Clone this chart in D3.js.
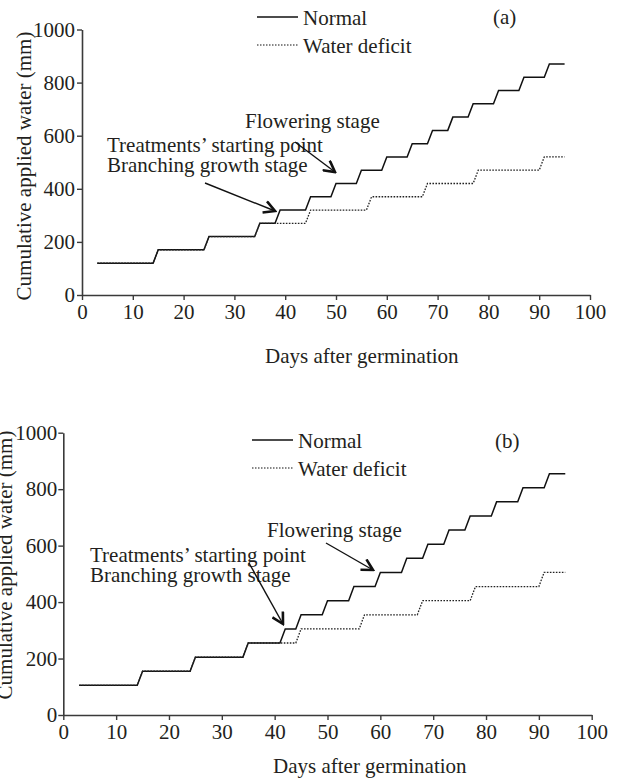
<!DOCTYPE html>
<html>
<head>
<meta charset="utf-8">
<script src="https://cdn.jsdelivr.net/npm/d3@7"></script>
<style>
  body { margin: 0; background: #fff; }
  svg text { font-family: "Liberation Serif", "DejaVu Serif", serif; fill: #231f20; }
</style>
</head>
<body>
<svg id="canvas" width="623" height="781"></svg>
<script>
// ---- data: [day, cumulative applied water (mm)] at each step corner
var normalA = [[3,120],[14,120],[15,170],[24,170],[25,220],[34,220],[35,270],[38,270],[39,320],[44,320],
    [45,370],[49,370],[50,420],[54,420],[55,470],[59,470],[60,520],[64,520],[65,570],[68,570],[69,620],
    [72,620],[73,670],[76,670],[77,720],[81,720],[82,770],[86,770],[87,820],[91,820],[92,870],[95,870]];
var deficitA = [[3,120],[14,120],[15,170],[24,170],[25,220],[34,220],[35,270],[44,270],[45,320],[56,320],
    [57,370],[67,370],[68,420],[77,420],[78,470],[90,470],[91,520],[95,520]];

var normalB = [[3,105],[14,105],[15,155],[24,155],[25,205],[34,205],[35,255],[41,255],[42,305],[44,305],
    [45,355],[49,355],[50,405],[54,405],[55,455],[59,455],[60,505],[64,505],[65,555],[68,555],[69,605],
    [72,605],[73,655],[76,655],[77,705],[81,705],[82,755],[86,755],[87,805],[91,805],[92,855],[95,855]];
var deficitB = [[3,105],[14,105],[15,155],[24,155],[25,205],[34,205],[35,255],[44,255],[45,305],[56,305],
    [57,355],[67,355],[68,405],[77,405],[78,455],[90,455],[91,505],[95,505]];

var xTicks = [0,10,20,30,40,50,60,70,80,90,100];
var yTicks = [0,200,400,600,800,1000];
var seriesNames = ['Normal', 'Water deficit'];
var panelLabels = ['(a)', '(b)'];
var notes = ['Flowering stage', 'Treatments\u2019 starting point', 'Branching growth stage'];
var xTitle = 'Days after germination';
var yTitle = 'Cumulative applied water (mm)';

// ---- layout of each panel (pixels)
var panels = [
    {
        normal: normalA, deficit: deficitA, label: panelLabels[0],
        x0: 82, x1: 590, y0: 295, y1: 29.5, yPad: 2,
        legend: {x: 257, lineLen: 41, y: 17, gap: 28, textX: 303},
        labelPos: [493, 24],
        xTitle: [265, 363], yTitle: [31, 166],
        flower: {text: [245, 128], from: [295, 142], to: [335, 172]},
        start: {text: [107, 152], gap: 20, from: [205, 183], to: [275, 211]}
    },
    {
        normal: normalB, deficit: deficitB, label: panelLabels[1],
        x0: 63.3, x1: 591.7, y0: 715, y1: 432.7, yPad: 1,
        legend: {x: 252, lineLen: 41, y: 440, gap: 28, textX: 298},
        labelPos: [495, 448],
        xTitle: [273, 773], yTitle: [12, 565],
        flower: {text: [267, 537], from: [326, 543], to: [373, 570]},
        start: {text: [90, 562], gap: 20, from: [249, 563], to: [283, 624]}
    }
];

var svg = d3.select('#canvas'),
    defs = svg.append('defs'),
    fontSize = 21;

// open chevron arrowhead
defs.append('marker')
        .attr('id', 'chevron')
        .attr('viewBox', '-1 -7 14 14')
        .attr('refX', 11)
        .attr('refY', 0)
        .attr('markerWidth', 14)
        .attr('markerHeight', 14)
        .attr('markerUnits', 'userSpaceOnUse')
        .attr('orient', 'auto')
    .append('path')
        .attr('d', 'M0,-6 L11,0 L0,6')
        .attr('fill', 'none')
        .attr('stroke', '#111')
        .attr('stroke-width', 2.6);

panels.forEach(function(p) {
    var g = svg.append('g');
    var x = d3.scaleLinear().domain([0, 100]).range([p.x0, p.x1]);
    var y = d3.scaleLinear().domain([0, 1000]).range([p.y0, p.y1]);

    // axes
    var xAxis = g.append('g')
        .attr('transform', 'translate(0,' + p.y0 + ')')
        .call(d3.axisBottom(x).tickValues(xTicks).tickFormat(d3.format('d'))
            .tickSize(5).tickPadding(4).tickSizeOuter(0));
    var yAxis = g.append('g')
        .attr('transform', 'translate(' + p.x0 + ',0)')
        .call(d3.axisLeft(y).tickValues(yTicks).tickFormat(d3.format('d'))
            .tickSize(5).tickPadding(p.yPad).tickSizeOuter(0));
    [xAxis, yAxis].forEach(function(a) {
        a.select('.domain').attr('stroke', '#3a3a3a').attr('stroke-width', 1.6);
        a.selectAll('.tick line').attr('stroke', '#3a3a3a').attr('stroke-width', 1.4);
        a.selectAll('.tick text')
            .attr('fill', '#231f20')
            .style('font-family', '"Liberation Serif", serif')
            .style('font-size', fontSize + 'px');
    });

    // step lines
    var line = d3.line().x(function(d) { return x(d[0]); }).y(function(d) { return y(d[1]); });
    g.append('path')
        .datum(p.normal)
        .attr('d', line)
        .attr('fill', 'none')
        .attr('stroke', '#111')
        .attr('stroke-width', 1.5);
    g.append('path')
        .datum(p.deficit)
        .attr('d', line)
        .attr('fill', 'none')
        .attr('stroke', '#222')
        .attr('stroke-width', 1.3)
        .attr('stroke-dasharray', '1.6,1.4');

    // legend
    var lg = p.legend;
    seriesNames.forEach(function(name, i) {
        var ly = lg.y + i * lg.gap;
        g.append('line')
            .attr('x1', lg.x).attr('x2', lg.x + lg.lineLen)
            .attr('y1', ly).attr('y2', ly)
            .attr('stroke', '#111')
            .attr('stroke-width', i ? 1.2 : 1.5)
            .attr('stroke-dasharray', i ? '1.5,1.5' : null);
        g.append('text')
            .attr('x', lg.textX).attr('y', ly + 8)
            .style('font-size', fontSize + 'px')
            .text(name);
    });

    g.append('text')
        .attr('x', p.labelPos[0]).attr('y', p.labelPos[1])
        .style('font-size', fontSize + 'px')
        .text(p.label);

    // axis titles
    g.append('text')
        .attr('x', p.xTitle[0]).attr('y', p.xTitle[1])
        .style('font-size', fontSize + 'px')
        .text(xTitle);
    g.append('text')
        .attr('transform', 'translate(' + p.yTitle[0] + ',' + p.yTitle[1] + ') rotate(-90)')
        .attr('text-anchor', 'middle')
        .style('font-size', fontSize + 'px')
        .text(yTitle);

    // annotations
    g.append('text')
        .attr('x', p.flower.text[0]).attr('y', p.flower.text[1])
        .style('font-size', fontSize + 'px')
        .text(notes[0]);
    [notes[1], notes[2]].forEach(function(t, i) {
        g.append('text')
            .attr('x', p.start.text[0]).attr('y', p.start.text[1] + i * p.start.gap)
            .style('font-size', fontSize + 'px')
            .text(t);
    });
    [p.flower, p.start].forEach(function(a) {
        g.append('line')
            .attr('x1', a.from[0]).attr('y1', a.from[1])
            .attr('x2', a.to[0]).attr('y2', a.to[1])
            .attr('stroke', '#111')
            .attr('stroke-width', 1.4)
            .attr('marker-end', 'url(#chevron)');
    });
});
</script>
</body>
</html>
